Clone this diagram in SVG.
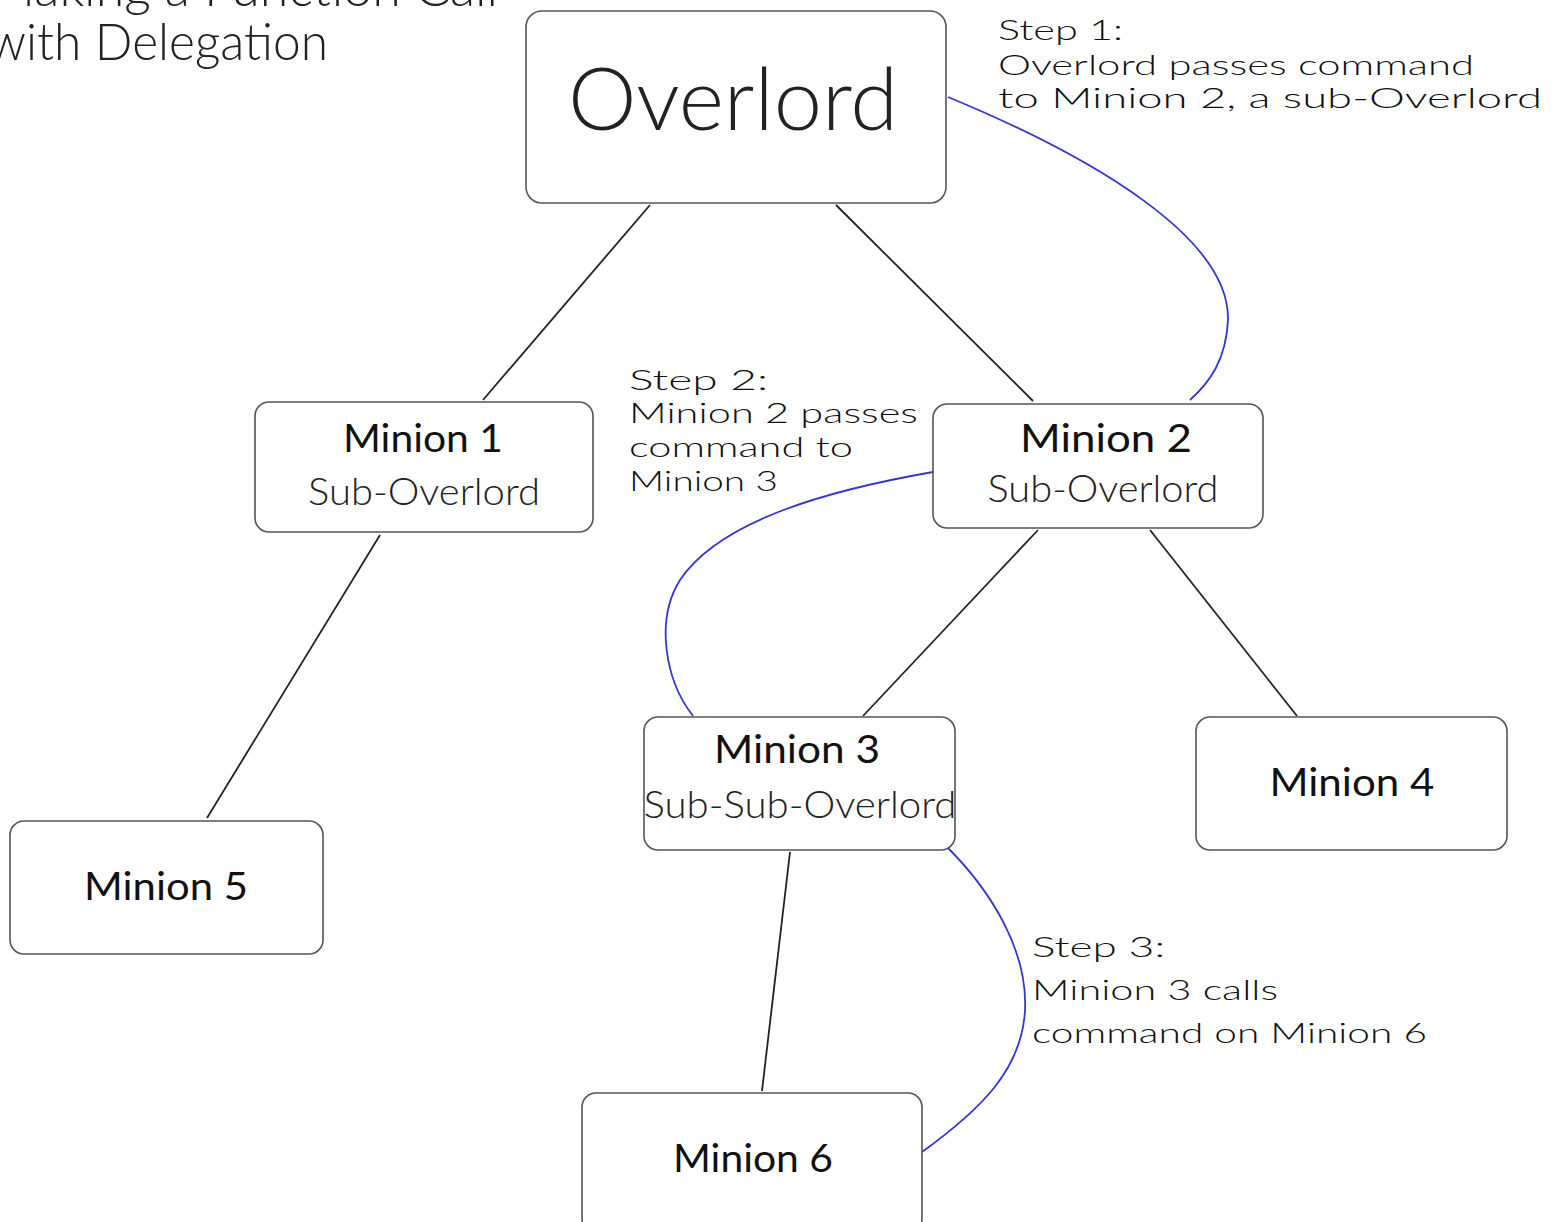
<svg xmlns="http://www.w3.org/2000/svg" width="1553" height="1222" viewBox="0 0 1553 1222">
<style>
.box{fill:#fff;stroke:#555;stroke-width:1.6}
.edge{fill:none;stroke:#222;stroke-width:1.8}
.flow{fill:none;stroke:#3535d0;stroke-width:1.8}
.geo{font-family:Lato,"Open Sans","Liberation Sans",sans-serif;font-weight:300;fill:#222}
.hand{font-family:Lato,"Open Sans","Liberation Sans",sans-serif;fill:#111}
.lbl{font-size:38px;text-anchor:middle}
.step{font-size:28px;font-weight:300}
</style>
<rect width="1553" height="1222" fill="#fff"/>
<g id="title">
<text class="geo" x="-12" y="6" font-size="52" textLength="510" lengthAdjust="spacingAndGlyphs">Making a Function Call</text>
<text class="geo" x="-12" y="60" font-size="52" textLength="340" lengthAdjust="spacingAndGlyphs">with Delegation</text>
</g>
<g id="connectors">
<path class="edge" d="M650,205 L483,400"/>
<path class="edge" d="M836,205 L1033,401"/>
<path class="edge" d="M380,535 L207,818"/>
<path class="edge" d="M1038,530 L863,716"/>
<path class="edge" d="M1150,530 L1297,716"/>
<path class="edge" d="M790,852 L762,1091"/>
<path class="flow" d="M948,97 C1100,160 1230,240 1228,320 C1226,360 1210,382 1190,400"/>
<path class="flow" d="M933,472 C830,490 720,520 680,580 C655,620 665,680 693,716"/>
<path class="flow" d="M948,848 C990,890 1028,950 1025,1010 C1022,1070 980,1110 922,1152"/>
</g>
<g id="overlord">
<rect class="box" x="526" y="11" width="420" height="192" rx="16"/>
<text class="geo" x="733" y="130" font-size="86" font-weight="400" text-anchor="middle" textLength="330" lengthAdjust="spacingAndGlyphs">Overlord</text>
</g>
<g id="minion1">
<rect class="box" x="255" y="402" width="338" height="130" rx="14"/>
<text class="hand lbl" x="423" y="452" textLength="160" lengthAdjust="spacingAndGlyphs">Minion 1</text>
<text class="geo" x="424" y="505" font-size="38" text-anchor="middle" textLength="232" lengthAdjust="spacingAndGlyphs">Sub-Overlord</text>
</g>
<g id="minion2">
<rect class="box" x="933" y="404" width="330" height="124" rx="14"/>
<text class="hand lbl" x="1106" y="452" textLength="172" lengthAdjust="spacingAndGlyphs">Minion 2</text>
<text class="geo" x="1103" y="502" font-size="38" text-anchor="middle" textLength="231" lengthAdjust="spacingAndGlyphs">Sub-Overlord</text>
</g>
<g id="minion3">
<rect class="box" x="644" y="717" width="311" height="133" rx="14"/>
<text class="hand lbl" x="797" y="763" textLength="166" lengthAdjust="spacingAndGlyphs">Minion 3</text>
<text class="geo" x="800" y="818" font-size="38" text-anchor="middle" textLength="313" lengthAdjust="spacingAndGlyphs">Sub-Sub-Overlord</text>
</g>
<g id="minion4">
<rect class="box" x="1196" y="717" width="311" height="133" rx="14"/>
<text class="hand lbl" x="1352" y="796" textLength="165" lengthAdjust="spacingAndGlyphs">Minion 4</text>
</g>
<g id="minion5">
<rect class="box" x="10" y="821" width="313" height="133" rx="14"/>
<text class="hand lbl" x="166" y="900" textLength="164" lengthAdjust="spacingAndGlyphs">Minion 5</text>
</g>
<g id="minion6">
<rect class="box" x="582" y="1093" width="340" height="140" rx="14"/>
<text class="hand lbl" x="753" y="1172" textLength="160" lengthAdjust="spacingAndGlyphs">Minion 6</text>
</g>
<g id="step1" class="hand step">
<text x="998" y="40" textLength="125" lengthAdjust="spacingAndGlyphs">Step 1:</text>
<text x="998" y="75" textLength="476" lengthAdjust="spacingAndGlyphs">Overlord passes command</text>
<text x="998" y="108" textLength="544" lengthAdjust="spacingAndGlyphs">to Minion 2, a sub-Overlord</text>
</g>
<g id="step2" class="hand step">
<text x="629" y="390" textLength="139" lengthAdjust="spacingAndGlyphs">Step 2:</text>
<text x="629" y="423" textLength="289" lengthAdjust="spacingAndGlyphs">Minion 2 passes</text>
<text x="629" y="457" textLength="224" lengthAdjust="spacingAndGlyphs">command to</text>
<text x="629" y="491" textLength="149" lengthAdjust="spacingAndGlyphs">Minion 3</text>
</g>
<g id="step3" class="hand step">
<text x="1032" y="957" textLength="133" lengthAdjust="spacingAndGlyphs">Step 3:</text>
<text x="1032" y="1000" textLength="246" lengthAdjust="spacingAndGlyphs">Minion 3 calls</text>
<text x="1032" y="1043" textLength="395" lengthAdjust="spacingAndGlyphs">command on Minion 6</text>
</g>
</svg>
